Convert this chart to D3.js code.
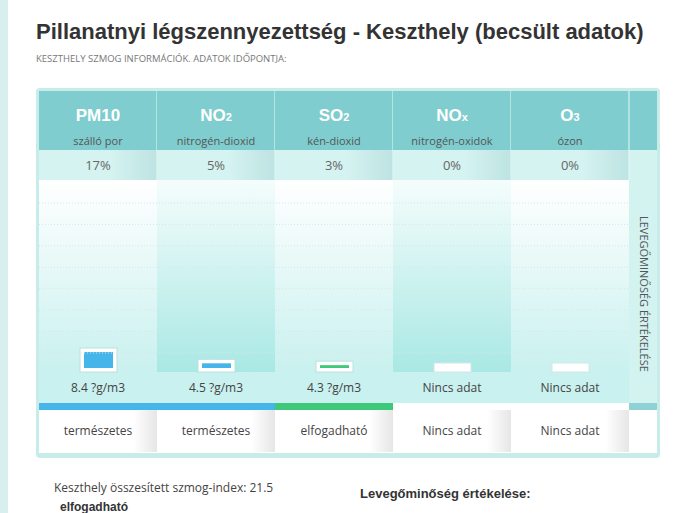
<!DOCTYPE html><html><head><meta charset="utf-8">
<script src="https://cdn.jsdelivr.net/npm/d3@7"></script>
<style>body{margin:0;background:#fff;font-family:"Open Sans",sans-serif}</style></head><body>
<svg id="c" width="678" height="513"></svg>
<script>
const codes=["PM10","NO","SO","NO","O"];
const subs=["","2","2","x","3"];
const names=["szálló por","nitrogén-dioxid","kén-dioxid","nitrogén-oxidok","ózon"];
const percents=[17,5,3,0,0];
const hasData=[true,true,true,false,false];
const values=["8.4 ?g/m3","4.5 ?g/m3","4.3 ?g/m3","Nincs adat","Nincs adat"];
const statuses=["természetes","természetes","elfogadható","Nincs adat","Nincs adat"];
const statusColors=["#45b5ea","#45b5ea","#3ec87a",null,null];
const gridTicks=[0,1,2,3,4,5,6,7];

const svg=d3.select("#c");
const defs=svg.append("defs");
const g1=defs.append("linearGradient").attr("id","gA").attr("x1",0).attr("y1",0).attr("x2",0).attr("y2",1);
g1.append("stop").attr("offset",0).attr("stop-color","#ffffff");
g1.append("stop").attr("offset",1).attr("stop-color","#c9f1ef");
const g2=defs.append("linearGradient").attr("id","gB").attr("x1",0).attr("y1",0).attr("x2",0).attr("y2",1);
g2.append("stop").attr("offset",0).attr("stop-color","#f4fdfc");
g2.append("stop").attr("offset",1).attr("stop-color","#a9e8e4");
const g3=defs.append("linearGradient").attr("id","gP").attr("x1",0).attr("y1",0).attr("x2",1).attr("y2",0);
g3.append("stop").attr("offset",0.6).attr("stop-color","#d5f3f1");
g3.append("stop").attr("offset",1).attr("stop-color","#bde3e2");
const g4=defs.append("linearGradient").attr("id","gS").attr("x1",0).attr("y1",0).attr("x2",1).attr("y2",0);
g4.append("stop").attr("offset",0.8).attr("stop-color","#ffffff");
g4.append("stop").attr("offset",1).attr("stop-color","#e6e6e6");

svg.append("rect").attr("x",0).attr("y",0).attr("width",8).attr("height",513).attr("fill","#d7f0ef");

svg.append("text").attr("x",36).attr("y",39).attr("font-family","Liberation Sans, Arial").attr("font-weight","bold").attr("font-size",22).attr("fill","#333").text("Pillanatnyi légszennyezettség - Keszthely (becsült adatok)");
svg.append("text").attr("x",36).attr("y",62).attr("font-size",9.5).attr("fill","#777").text("KESZTHELY SZMOG INFORMÁCIÓK. ADATOK IDŐPONTJA:");

const x=d3.scaleBand().domain(d3.range(5)).range([39,629]).paddingInner(0);
const w=x.bandwidth();
const y=d3.scaleLinear().domain([0,100]).range([0,94]);
const gy=d3.scaleLinear().domain([0,7]).range([203,353]);

svg.append("rect").attr("x",36).attr("y",88).attr("width",624).attr("height",370).attr("rx",4).attr("fill","#c7ecea");
svg.append("rect").attr("x",39).attr("y",91).attr("width",618).attr("height",362).attr("fill","#fff");

svg.append("rect").attr("x",629).attr("y",91).attr("width",28).attr("height",59).attr("fill","#7fcdce");
svg.append("rect").attr("x",629).attr("y",150).attr("width",28).attr("height",253).attr("fill","#d3f3f1");
svg.append("rect").attr("x",629).attr("y",403).attr("width",28).attr("height",7).attr("fill","#8fd2d6");
svg.append("text").attr("transform","translate(640,216) rotate(90)").attr("font-size",11).attr("fill","#555").text("LEVEGŐMINŐSÉG ÉRTÉKELÉSE");

const col=svg.selectAll("g.col").data(d3.range(5)).join("g").attr("class","col");
col.append("rect").attr("x",i=>x(i)).attr("y",91).attr("width",w).attr("height",59).attr("fill","#7fcdce");
col.append("rect").attr("x",i=>x(i)).attr("y",150).attr("width",w).attr("height",30).attr("fill","url(#gP)");
col.append("rect").attr("x",i=>x(i)).attr("y",180).attr("width",w).attr("height",192).attr("fill",i=>i%2? "url(#gB)":"url(#gA)");
col.append("rect").attr("x",i=>x(i)).attr("y",372).attr("width",w).attr("height",31).attr("fill","#c9f1ef");
col.append("rect").attr("x",i=>x(i)).attr("y",403).attr("width",w).attr("height",7).attr("fill",i=>statusColors[i]||"#fff");
col.append("rect").attr("x",i=>x(i)).attr("y",410).attr("width",w).attr("height",42).attr("fill","url(#gS)");
col.append("line").attr("x1",i=>x(i)+w).attr("x2",i=>x(i)+w).attr("y1",91).attr("y2",180).attr("stroke","#e8f8f7");
const ct=col.append("text").attr("x",i=>x(i)+w/2).attr("y",121).attr("text-anchor","middle").attr("font-family","Liberation Sans, Arial").attr("font-weight","bold").attr("font-size",17).attr("fill","#fff");
ct.append("tspan").text(i=>codes[i]);
ct.append("tspan").attr("font-size",11).text(i=>subs[i]);
col.append("text").attr("x",i=>x(i)+w/2).attr("y",145).attr("text-anchor","middle").attr("font-size",11).attr("fill","#555").text(i=>names[i]);
col.append("text").attr("x",i=>x(i)+w/2).attr("y",170).attr("text-anchor","middle").attr("font-size",13).attr("fill","#666").text(i=>percents[i]+"%");

svg.selectAll("line.grid").data(gridTicks).join("line").attr("x1",39).attr("x2",629).attr("y1",d=>gy(d)).attr("y2",d=>gy(d)).attr("stroke","#d6e6e6").attr("stroke-dasharray","1,2");

const base=372;
col.append("rect").attr("x",i=>x(i)+w/2-18).attr("width",37)
  .attr("y",i=>hasData[i]? base-y(percents[i])-8 : base-9)
  .attr("height",i=>hasData[i]? y(percents[i])+8 : 9)
  .attr("fill","#fff").attr("stroke",i=>hasData[i]?"#bde0e0":"#d0e8e8");
col.filter(i=>hasData[i]).append("rect").attr("x",i=>x(i)+w/2-14).attr("width",29)
  .attr("y",i=>base-4-Math.max(2,y(percents[i])))
  .attr("height",i=>Math.max(2,y(percents[i]))).attr("fill",i=>statusColors[i]);

col.append("text").attr("x",i=>x(i)+w/2).attr("y",392).attr("text-anchor","middle").attr("font-size",12).attr("fill","#444").text(i=>values[i]);
col.append("text").attr("x",i=>x(i)+w/2).attr("y",435).attr("text-anchor","middle").attr("font-size",12).attr("fill","#444").text(i=>statuses[i]);

svg.append("text").attr("x",54).attr("y",492).attr("font-size",12).attr("fill","#444").text("Keszthely összesített szmog-index: 21.5");
svg.append("text").attr("x",360).attr("y",498).attr("font-family","Liberation Sans, Arial").attr("font-weight","bold").attr("font-size",13).attr("fill","#333").text("Levegőminőség értékelése:");
svg.append("text").attr("x",60).attr("y",511).attr("font-family","Liberation Sans, Arial").attr("font-weight","bold").attr("font-size",12).attr("fill","#333").text("elfogadható");
</script></body></html>
